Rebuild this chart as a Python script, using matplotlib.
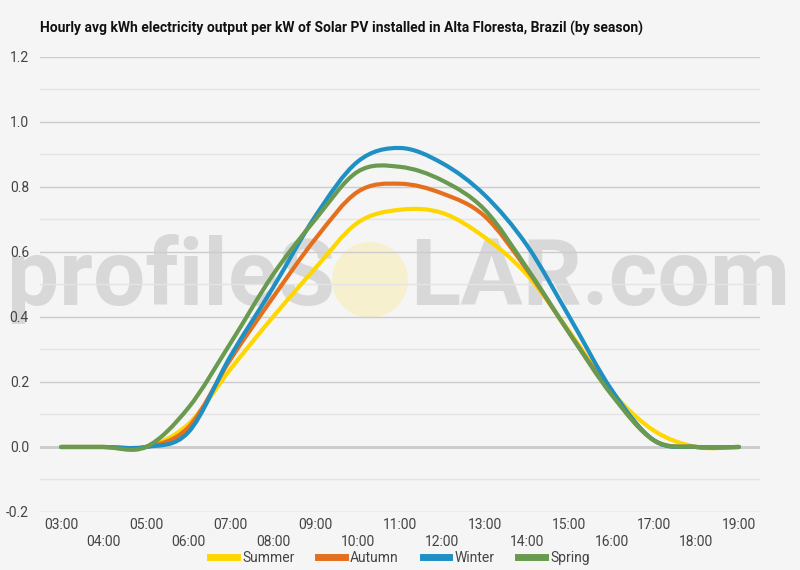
import numpy as np
import matplotlib
matplotlib.use("Agg")
import matplotlib.pyplot as plt
from matplotlib.path import Path
from matplotlib.patches import PathPatch, Ellipse
from matplotlib.lines import Line2D

hours = list(range(3, 20))
hour_labels = [f"{h:02d}:00" for h in hours]
summer = [0, 0, 0, 0.07, 0.24, 0.40, 0.55, 0.69, 0.73, 0.72, 0.645, 0.53, 0.355, 0.17, 0.05, 0, 0]
autumn = [0, 0, 0, 0.06, 0.27, 0.46, 0.64, 0.785, 0.81, 0.78, 0.71, 0.545, 0.35, 0.165, 0.02, 0, 0]
winter = [0, 0, 0, 0.045, 0.28, 0.49, 0.71, 0.878, 0.92, 0.873, 0.775, 0.62, 0.40, 0.175, 0.02, 0, 0]
spring = [0, 0, 0, 0.12, 0.32, 0.53, 0.70, 0.847, 0.862, 0.82, 0.73, 0.55, 0.35, 0.16, 0.02, 0, 0]
series_names = ["Summer", "Autumn", "Winter", "Spring"]
series_values = [summer, autumn, winter, spring]
colors = ["#ffd700", "#e4701e", "#1f90c3", "#6a9a4f"]
title = "Hourly avg kWh electricity output per kW of Solar PV installed in Alta Floresta, Brazil (by season)"

BG = "#f5f5f5"
plt.rcParams['font.family'] = ['Roboto', 'DejaVu Sans']

fig = plt.figure(figsize=(8, 5.7), dpi=100, facecolor=BG)
ax = fig.add_axes([0.05, 0.1018, 0.90, 0.7982])
ax.set_facecolor(BG)


def smooth_path(xs, ys):
    n = len(xs)
    verts = [(xs[0], ys[0])]
    codes = [Path.MOVETO]
    for i in range(n - 1):
        i0 = i - 1 if i > 0 else i
        i3 = i + 2 if i + 2 < n else i + 1
        c1 = (xs[i] + (xs[i + 1] - xs[i0]) / 6.0, ys[i] + (ys[i + 1] - ys[i0]) / 6.0)
        c2 = (xs[i + 1] - (xs[i3] - xs[i]) / 6.0, ys[i + 1] - (ys[i3] - ys[i]) / 6.0)
        verts += [c1, c2, (xs[i + 1], ys[i + 1])]
        codes += [Path.CURVE4] * 3
    return Path(verts, codes)


ax.set_xlim(2.5, 19.5)
ax.set_ylim(-0.2, 1.2)
yt = np.arange(-0.2, 1.21, 0.2)
ax.set_yticks(yt)
ax.set_yticklabels([f"{v:.1f}" for v in yt])
ax.set_yticks(np.arange(-0.1, 1.2, 0.2), minor=True)
ax.grid(axis='y', which='major', color='#cccccc', lw=1.0, zorder=0)
ax.grid(axis='y', which='minor', color='#e4e4e4', lw=1.0, zorder=0)
ax.axhline(0, color='#333333', lw=1.0, zorder=1)
for s in ax.spines.values():
    s.set_visible(False)
ax.tick_params(axis='both', which='both', length=0, labelsize=10, labelcolor='#444444')
ax.tick_params(axis='y', pad=8)
ax.tick_params(axis='x', pad=4)
ax.set_xticks(hours)
ax.set_xticklabels([lab if i % 2 == 0 else "\n" + lab for i, lab in enumerate(hour_labels)],
                   linespacing=1.35)

# watermark
wm_color = (0.78, 0.78, 0.78, 0.62)
renderer = fig.canvas.get_renderer()
t1 = ax.text(335 / 800, 1 - 305 / 570, "profileS", transform=fig.transFigure, ha='right',
             va='baseline', fontsize=64, fontweight='bold', color=wm_color, zorder=0.5, clip_on=False)
w = t1.get_window_extent(renderer).width
t1.set_fontsize(64 * 328 / w)
t2 = ax.text(410 / 800, 1 - 305 / 570, "LAR.com", transform=fig.transFigure, ha='left',
             va='baseline', fontsize=64 * 328 / w, fontweight='bold', color=wm_color, zorder=0.5,
             clip_on=False)
sun = Ellipse((370 / 800, 1 - 280 / 570), 76 / 800, 76 / 570, transform=fig.transFigure,
              facecolor='#f7f0ca', edgecolor='none', zorder=0.6, clip_on=False, alpha=0.9)
ax.add_patch(sun)

for name, vals, col in zip(series_names, series_values, colors):
    p = PathPatch(smooth_path(hours, vals), fill=False, edgecolor=col, lw=3.0,
                  capstyle='round', joinstyle='round', zorder=3)
    ax.add_patch(p)

handles = [Line2D([0], [0], color=c, lw=5) for c in colors]
fig.legend(handles, series_names, loc='center', bbox_to_anchor=(0.5, 1 - 558 / 570), ncol=4,
           frameon=False, fontsize=10, handlelength=1.9, columnspacing=1.7, handletextpad=0.4,
           labelcolor='#444444')

fig.text(40 / 800, 1 - 28 / 570, title, ha='left', va='center', fontsize=10, fontweight='bold',
         family=['Liberation Sans Narrow', 'Roboto', 'DejaVu Sans'], color='#111111')

fig.savefig("out.png", dpi=100, facecolor=BG)
